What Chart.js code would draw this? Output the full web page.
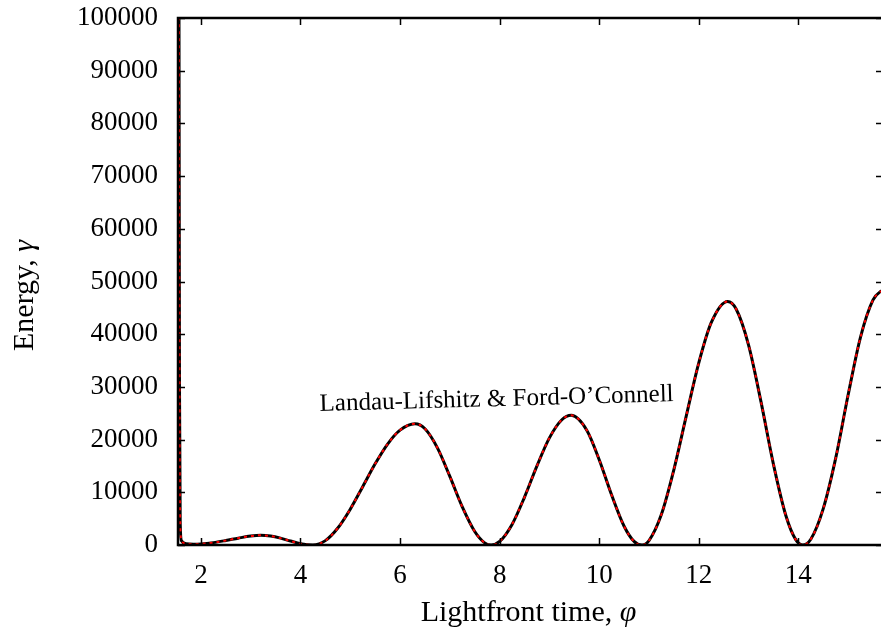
<!DOCTYPE html>
<html>
<head>
<meta charset="utf-8">
<script src="https://cdn.jsdelivr.net/npm/chart.js@4/dist/chart.umd.min.js"></script>
<style>
  html, body { margin: 0; padding: 0; background: #fff; overflow: hidden; }
  canvas { display: block; }
</style>
</head>
<body>
<canvas id="energyChart" width="886" height="634"></canvas>
<script>
// Lightfront time (phi) and energy (gamma) samples
const phi = [1.555, 1.57, 1.585, 1.61, 1.7, 1.85, 2.0, 2.25, 2.5, 2.75, 3.0, 3.2, 3.4, 3.6, 3.8, 4.0, 4.25,
  4.5, 4.75, 5.0, 5.25, 5.5, 5.75, 6.0, 6.3, 6.5, 6.75, 7.0, 7.25, 7.5, 7.7, 7.83,
  8.0, 8.25, 8.5, 8.75, 9.0, 9.25, 9.44, 9.75, 10.0, 10.25, 10.5, 10.7, 10.85,
  11.0, 11.25, 11.5, 11.75, 12.0, 12.25, 12.58, 12.75, 13.0, 13.25, 13.5, 13.75, 13.95, 14.09,
  14.25, 14.5, 14.75, 15.0, 15.25, 15.5, 15.65, 15.75];
const gamma = [140000, 30000, 4000, 800, 250, 150, 200, 450, 850, 1300, 1700, 1850, 1700, 1300, 750, 250, 0,
  830, 3220, 6800, 11060, 15400, 19160, 21800, 23000, 22050, 18440, 13020, 7230, 2560, 410, 0,
  670, 3910, 9100, 15020, 20330, 23770, 24600, 21780, 16190, 9470, 3560, 680, 0,
  850, 5820, 14300, 24550, 34550, 42180, 46200, 44770, 37940, 27160, 15300, 5540, 970, 0,
  1090, 6900, 16480, 28500, 39500, 46500, 48100, 48400];

const xTicks = [2, 4, 6, 8, 10, 12, 14];
const yTicks = [0, 10000, 20000, 30000, 40000, 50000, 60000, 70000, 80000, 90000, 100000];

const points = phi.map((p, i) => ({ x: p, y: gamma[i] }));
const FONT = "'Liberation Serif', 'DejaVu Serif', serif";

// draws "text" then an italic symbol right after it, centred on 0
function labelWithSymbol(ctx, text, sym, size, y) {
  ctx.font = size + "px " + FONT;
  const w1 = ctx.measureText(text).width;
  ctx.font = "italic " + size + "px " + FONT;
  const w2 = ctx.measureText(sym).width;
  ctx.textAlign = "left";
  ctx.font = size + "px " + FONT;
  ctx.fillText(text, -(w1 + w2) / 2, y);
  ctx.font = "italic " + size + "px " + FONT;
  ctx.fillText(sym, -(w1 + w2) / 2 + w1, y);
}

// gnuplot-style frame with inward ticks, axis titles and the curve label
const framePlugin = {
  id: "frame",
  afterDraw(chart) {
    const { ctx, chartArea: a, scales } = chart;
    const t = 7;
    ctx.save();
    ctx.strokeStyle = "#000";
    ctx.lineWidth = 1.5;
    ctx.beginPath();
    xTicks.forEach((v) => {
      const px = Math.round(scales.x.getPixelForValue(v)) + 0.5;
      ctx.moveTo(px, a.bottom); ctx.lineTo(px, a.bottom - t);
      ctx.moveTo(px, a.top); ctx.lineTo(px, a.top + t);
    });
    yTicks.forEach((v) => {
      const py = Math.round(scales.y.getPixelForValue(v)) + 0.5;
      ctx.moveTo(a.left, py); ctx.lineTo(a.left + t, py);
      ctx.moveTo(a.right, py); ctx.lineTo(a.right - t, py);
    });
    ctx.stroke();
    ctx.lineWidth = 2.5;
    ctx.strokeRect(a.left, a.top, a.right - a.left, a.bottom - a.top);

    ctx.fillStyle = "#000";
    ctx.textBaseline = "alphabetic";

    // x title
    ctx.save();
    ctx.translate((a.left + a.right) / 2 - 2, 0);
    labelWithSymbol(ctx, "Lightfront time, ", "φ", 30, 621);
    ctx.restore();

    // y title
    ctx.save();
    ctx.translate(33, (a.top + a.bottom) / 2 + 14);
    ctx.rotate(-Math.PI / 2);
    labelWithSymbol(ctx, "Energy, ", "γ", 30, 0);
    ctx.restore();

    // curve label
    ctx.save();
    ctx.translate(scales.x.getPixelForValue(7.94), scales.y.getPixelForValue(27600));
    ctx.rotate(-1.6 * Math.PI / 180);
    ctx.font = "25px " + FONT;
    ctx.textAlign = "center";
    ctx.textBaseline = "middle";
    ctx.fillText("Landau-Lifshitz & Ford-O’Connell", 0, 0);
    ctx.restore();
    ctx.restore();
  },
};

new Chart(document.getElementById("energyChart"), {
  type: "line",
  data: {
    datasets: [
      {
        data: points,
        borderColor: "#ff0000",
        borderWidth: 2,
        borderDash: [3, 4],
        pointRadius: 0,
        cubicInterpolationMode: "monotone",
        order: 0,
      },
      {
        data: points,
        borderColor: "#000000",
        borderWidth: 3,
        pointRadius: 0,
        cubicInterpolationMode: "monotone",
        order: 1,
      },
    ],
  },
  options: {
    responsive: false,
    animation: false,
    devicePixelRatio: 1,
    layout: { padding: { top: 18, right: 3, left: 0, bottom: 0 } },
    plugins: { legend: { display: false }, tooltip: { enabled: false } },
    scales: {
      x: {
        type: "linear",
        min: 1.54,
        max: 15.7,
        afterBuildTicks: (s) => { s.ticks = xTicks.map((v) => ({ value: v })); },
        afterFit: (s) => { s.height = 89; s.paddingLeft = 0; s.paddingRight = 0; },
        grid: { display: false, drawTicks: false },
        border: { display: false },
        ticks: { color: "#000", font: { family: FONT, size: 27 }, padding: 15, maxRotation: 0 },
      },
      y: {
        min: 0,
        max: 100000,
        afterBuildTicks: (s) => { s.ticks = yTicks.map((v) => ({ value: v })); },
        afterFit: (s) => { s.width = 178; s.paddingTop = 0; s.paddingBottom = 0; },
        grid: { display: false, drawTicks: false },
        border: { display: false },
        ticks: { color: "#000", font: { family: FONT, size: 27 }, padding: 20, callback: (v) => String(v) },
      },
    },
  },
  plugins: [framePlugin],
});
</script>
</body>
</html>
